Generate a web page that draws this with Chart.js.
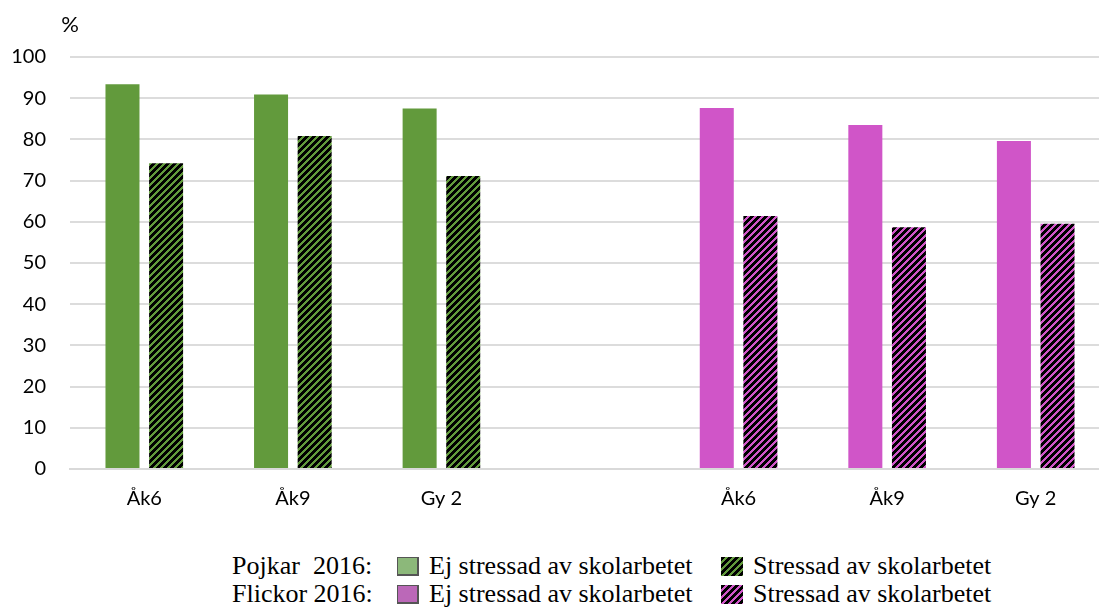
<!DOCTYPE html>
<html>
<head>
<meta charset="utf-8">
<script src="https://cdn.jsdelivr.net/npm/chart.js@4.4.1/dist/chart.umd.min.js"></script>
<style>
  html, body { margin: 0; padding: 0; background: #fff; overflow: hidden; }
  #wrap { position: relative; width: 1099px; height: 610px; overflow: hidden; }
  #box { position: absolute; left: 0; top: 0; width: 1110px; height: 519px; }
  #legend { position: absolute; left: 232px; top: 552px; font-family: 'Liberation Serif', 'Times New Roman', serif; font-size: 26px; color: #000; }
  .row { display: flex; align-items: center; height: 28px; white-space: pre; }
  .lab { width: 165px; }
  .sw { width: 22px; height: 19px; box-sizing: border-box; border: 1px solid #555; border-right-width: 2px; border-bottom-width: 2px; margin-right: 10px; }
  .txt { width: 292px; }
</style>
</head>
<body>
<div id="wrap">
  <div id="box"><canvas id="chart"></canvas></div>
  <div id="legend"></div>
</div>
<script>
const categories = ['Åk6', 'Åk9', 'Gy 2', '', 'Åk6', 'Åk9', 'Gy 2'];
const pojkarEj = [93.4, 90.9, 87.5];
const pojkarStressad = [74.2, 80.8, 71.1];
const flickorEj = [87.6, 83.5, 79.6];
const flickorStressad = [61.4, 58.7, 59.5];
const groups = ['Pojkar  2016:', 'Flickor 2016:'];
const seriesNames = ['Ej stressad av skolarbetet', 'Stressad av skolarbetet'];

const green = '#629a3c';
const pink = '#d055c8';

// diagonal black hatch tile
function hatchTile(color) {
  const size = 7;
  const c = document.createElement('canvas');
  c.width = size; c.height = size;
  const g = c.getContext('2d');
  g.fillStyle = color;
  g.fillRect(0, 0, size, size);
  g.fillStyle = '#000';
  for (let x = 0; x < size; x++) {
    for (let y = 0; y < size; y++) {
      if ((x + y) % size < 4) g.fillRect(x, y, 1, 1);
    }
  }
  return c;
}

const greenTile = hatchTile(green);
const pinkTile = hatchTile(pink);
const ctx = document.getElementById('chart').getContext('2d');
const greenHatch = ctx.createPattern(greenTile, 'repeat');
const pinkHatch = ctx.createPattern(pinkTile, 'repeat');

const ejData = [...pojkarEj, null, ...flickorEj];
const stressData = [...pojkarStressad, null, ...flickorStressad];
const ejColors = [green, green, green, green, pink, pink, pink];
const stressColors = [greenHatch, greenHatch, greenHatch, greenHatch, pinkHatch, pinkHatch, pinkHatch];

const percentLabel = {
  id: 'percentLabel',
  afterDraw(chart) {
    const c = chart.ctx;
    c.save();
    c.fillStyle = '#000';
    c.font = '22px Lato';
    c.textAlign = 'center';
    c.textBaseline = 'middle';
    c.fillText('%', 70, 25);
    c.restore();
  }
};

new Chart(ctx, {
  type: 'bar',
  data: {
    labels: categories,
    datasets: [
      { label: seriesNames[0], data: ejData, backgroundColor: ejColors, categoryPercentage: 0.587, barPercentage: 0.78 },
      { label: seriesNames[1], data: stressData, backgroundColor: stressColors, categoryPercentage: 0.587, barPercentage: 0.78 },
    ],
  },
  options: {
    responsive: true,
    maintainAspectRatio: false,
    animation: false,
    layout: { padding: { top: 57, left: 0, right: 0, bottom: 0 } },
    plugins: { legend: { display: false }, tooltip: { enabled: false } },
    scales: {
      x: {
        grid: { display: false, drawTicks: false },
        border: { display: true, color: '#d9d9d9', width: 2 },
        ticks: { color: '#000', font: { family: 'Lato', size: 20 }, padding: 18, maxRotation: 0 },
        afterFit(scale) { scale.height = 50; },
      },
      y: {
        min: 0,
        max: 100,
        ticks: { stepSize: 10, color: '#000', font: { family: 'Lato', size: 20 }, padding: 24 },
        grid: { color: '#dcdcdc', lineWidth: 2, drawTicks: false },
        border: { display: false },
        afterFit(scale) { scale.width = 70; },
      },
    },
  },
  plugins: [percentLabel],
});

// legend rows
const legend = document.getElementById('legend');
const swatches = [
  [{ bg: '#8cb87a' }, { img: greenTile.toDataURL() }],
  [{ bg: '#bb68b8' }, { img: pinkTile.toDataURL() }],
];
groups.forEach((g, i) => {
  const row = document.createElement('div');
  row.className = 'row';
  const lab = document.createElement('span');
  lab.className = 'lab';
  lab.textContent = g;
  row.appendChild(lab);
  seriesNames.forEach((name, j) => {
    const sw = document.createElement('span');
    sw.className = 'sw';
    const s = swatches[i][j];
    if (s.bg) sw.style.background = s.bg;
    else { sw.style.backgroundImage = `url(${s.img})`; sw.style.border = 'none'; }
    row.appendChild(sw);
    const t = document.createElement('span');
    t.className = 'txt';
    t.textContent = name;
    row.appendChild(t);
  });
  legend.appendChild(row);
});
</script>
</body>
</html>
